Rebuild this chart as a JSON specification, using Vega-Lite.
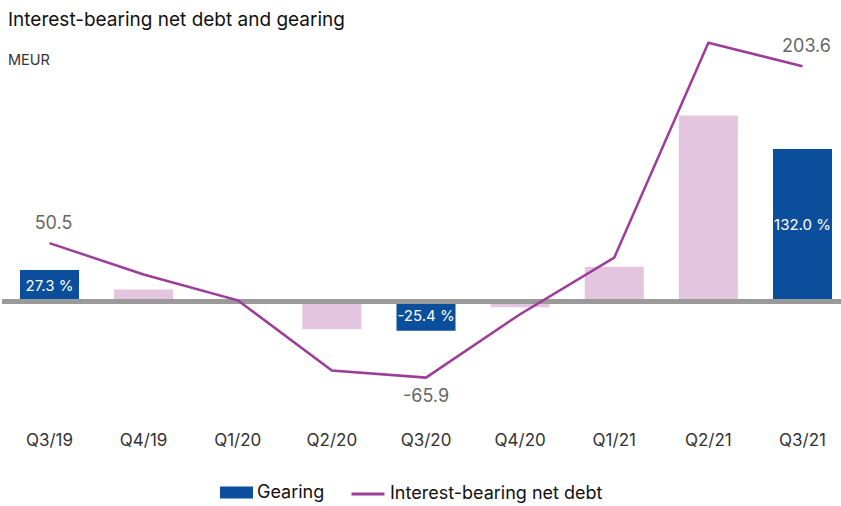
{
  "$schema": "https://vega.github.io/schema/vega-lite/v6.json",
  "width": 848,
  "height": 387,
  "autosize": {"type": "none"},
  "padding": {"left": 2, "top": 30, "right": 0, "bottom": 89},
  "background": "white",
  "config": {
    "font": "Inter",
    "view": {"stroke": null},
    "axis": {"grid": false, "domain": false, "ticks": false}
  },
  "title": {
    "text": "Interest-bearing net debt and gearing",
    "subtitle": "MEUR",
    "anchor": "start",
    "frame": "group",
    "orient": "top",
    "offset": -37,
    "dx": 6,
    "fontSize": 19,
    "fontWeight": "normal",
    "color": "#111111",
    "subtitleFontSize": 14.5,
    "subtitleColor": "#333333",
    "subtitlePadding": 24
  },
  "data": {
    "values": [
      {"q": "Q3/19", "gearing": 27.3, "debt": 50.5, "hl": "Gearing", "gl": "27.3 %", "dl": "50.5", "lab": "above"},
      {"q": "Q4/19", "gearing": 10.4, "debt": 23.4, "hl": "other", "gl": "", "dl": "", "lab": "none"},
      {"q": "Q1/20", "gearing": 0.5, "debt": 1.0, "hl": "other", "gl": "", "dl": "", "lab": "none"},
      {"q": "Q2/20", "gearing": -24.0, "debt": -59.7, "hl": "other", "gl": "", "dl": "", "lab": "none"},
      {"q": "Q3/20", "gearing": -25.4, "debt": -65.9, "hl": "Gearing", "gl": "-25.4 %", "dl": "-65.9", "lab": "below"},
      {"q": "Q4/20", "gearing": -5.0, "debt": -11.0, "hl": "other", "gl": "", "dl": "", "lab": "none"},
      {"q": "Q1/21", "gearing": 30.0, "debt": 38.0, "hl": "other", "gl": "", "dl": "", "lab": "none"},
      {"q": "Q2/21", "gearing": 161.0, "debt": 224.0, "hl": "other", "gl": "", "dl": "", "lab": "none"},
      {"q": "Q3/21", "gearing": 132.0, "debt": 203.6, "hl": "Gearing", "gl": "132.0 %", "dl": "203.6", "lab": "above"}
    ]
  },
  "encoding": {
    "x": {
      "field": "q",
      "type": "nominal",
      "sort": null,
      "title": null,
      "scale": {"paddingInner": 0.373, "paddingOuter": 0.191},
      "axis": {"labelAngle": 0, "labelFontSize": 17, "labelColor": "#333333", "labelPadding": 15, "orient": "bottom"}
    }
  },
  "layer": [
    {
      "mark": {"type": "bar"},
      "encoding": {
        "y": {"field": "gearing", "type": "quantitative", "scale": {"domain": [-100, 235], "nice": false, "zero": false}, "axis": null},
        "fill": {
          "field": "hl",
          "type": "nominal",
          "scale": {"domain": ["Gearing", "other"], "range": ["#0b4f9c", "#e4c5df"]},
          "legend": {
            "values": ["Gearing"],
            "title": null,
            "orient": "none",
            "legendX": 218,
            "legendY": 446,
            "symbolType": "M-1,-0.364H1V0.364H-1Z",
            "symbolSize": 1089,
            "symbolStrokeWidth": 0,
            "labelFontSize": 18,
            "labelColor": "#111111",
            "labelOffset": 4,
            "labelLimit": 0,
            "padding": 0
          }
        }
      }
    },
    {
      "transform": [{"filter": "datum.hl == 'Gearing'"}, {"calculate": "datum.gearing / 2", "as": "mid"}],
      "mark": {"type": "text", "color": "white", "fontSize": 15, "baseline": "middle", "align": "center"},
      "encoding": {
        "y": {"field": "mid", "type": "quantitative", "scale": {"domain": [-100, 235], "nice": false, "zero": false}, "axis": null},
        "text": {"field": "gl"}
      }
    },
    {
      "mark": {"type": "rule", "color": "#9a9a9a", "strokeWidth": 5},
      "encoding": {
        "y": {"datum": 0, "type": "quantitative", "scale": {"domain": [-100, 235], "nice": false, "zero": false}, "axis": null},
        "x": {}
      }
    },
    {
      "mark": {"type": "line", "strokeWidth": 2.5},
      "encoding": {
        "y": {"field": "debt", "type": "quantitative", "scale": {"domain": [-100, 235], "nice": false, "zero": false}, "axis": null},
        "stroke": {
          "datum": "Interest-bearing net debt",
          "type": "nominal",
          "scale": {"domain": ["Interest-bearing net debt"], "range": ["#9d3c99"]},
          "legend": {
            "title": null,
            "orient": "none",
            "legendX": 348,
            "legendY": 446,
            "symbolType": "stroke",
            "symbolSize": 1089,
            "symbolStrokeWidth": 3,
            "labelFontSize": 18,
            "labelColor": "#111111",
            "labelOffset": 4,
            "labelLimit": 0,
            "padding": 0
          }
        }
      }
    },
    {
      "transform": [{"filter": "datum.lab == 'above'"}],
      "mark": {"type": "text", "color": "#666666", "fontSize": 18, "dy": -19, "dx": 4, "baseline": "middle"},
      "encoding": {
        "y": {"field": "debt", "type": "quantitative", "scale": {"domain": [-100, 235], "nice": false, "zero": false}, "axis": null},
        "text": {"field": "dl"}
      }
    },
    {
      "transform": [{"filter": "datum.lab == 'below'"}],
      "mark": {"type": "text", "color": "#666666", "fontSize": 18, "dy": 19, "baseline": "middle"},
      "encoding": {
        "y": {"field": "debt", "type": "quantitative", "scale": {"domain": [-100, 235], "nice": false, "zero": false}, "axis": null},
        "text": {"field": "dl"}
      }
    }
  ]
}
